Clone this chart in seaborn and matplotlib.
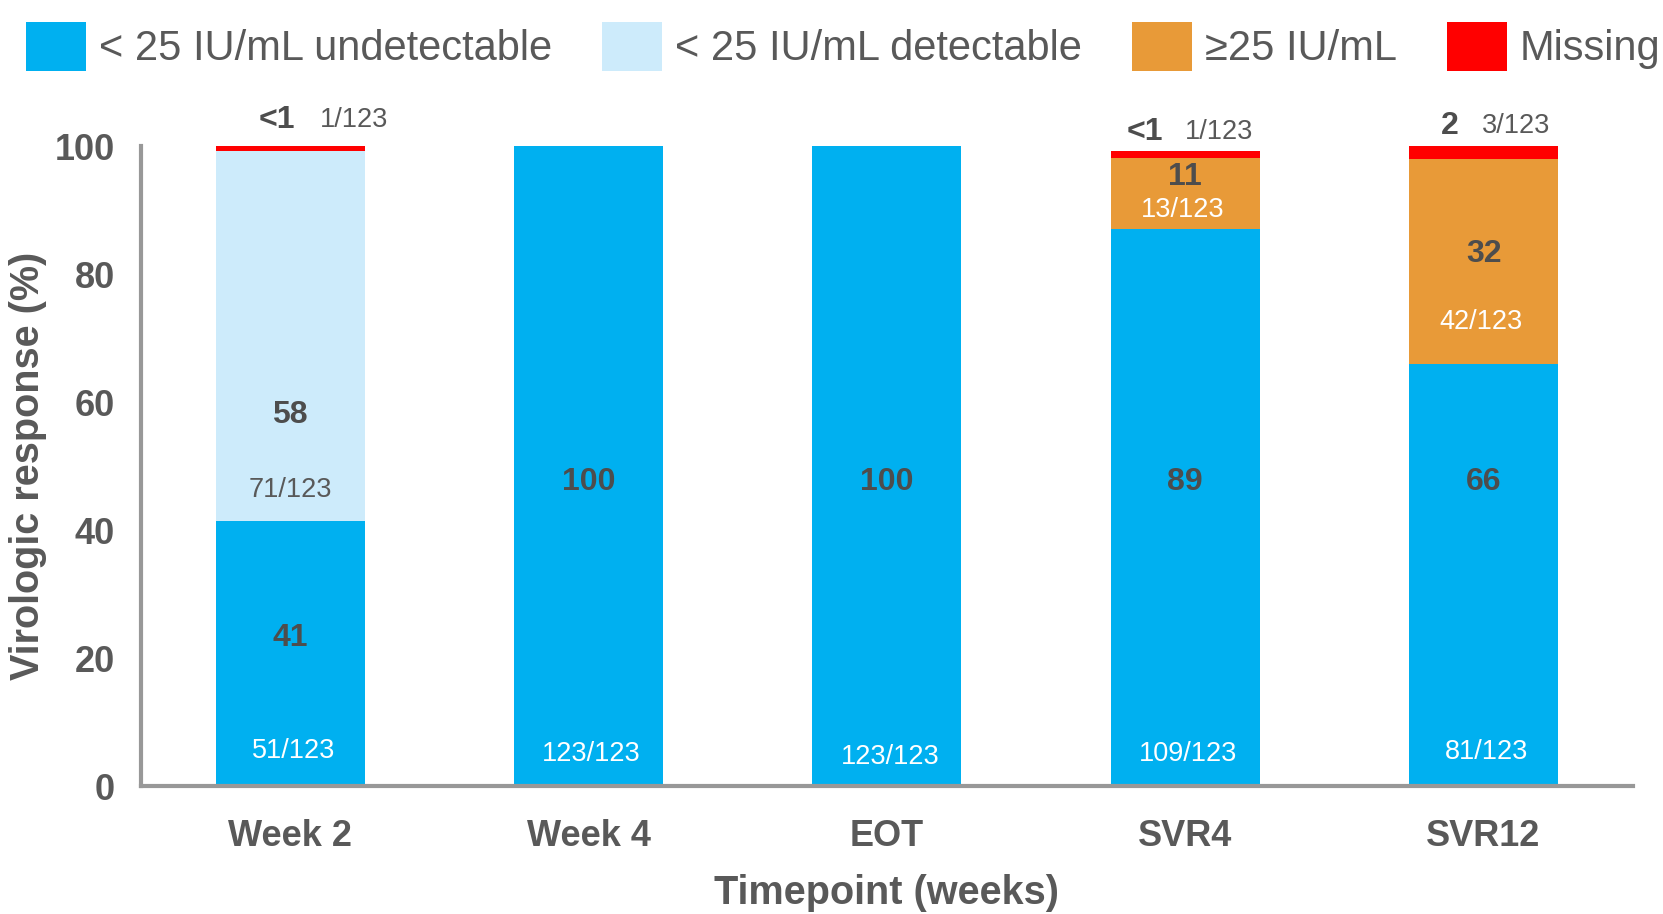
import matplotlib
matplotlib.use("Agg")
import matplotlib.pyplot as plt
from matplotlib.patches import Patch
import seaborn as sns
import pandas as pd
import numpy as np

# data
timepoints = ["Week 2", "Week 4", "EOT", "SVR4", "SVR12"]
undetectable = [41.5, 100, 100, 87.1, 66.0]
detectable = [57.7, 0, 0, 0, 0]
above25 = [0, 0, 0, 11.1, 32.0]
missing = [0.8, 0, 0, 1.0, 2.0]

pct_undet = ["41", "100", "100", "89", "66"]
n_undet = ["51/123", "123/123", "123/123", "109/123", "81/123"]
pct_det = ["58", "", "", "", ""]
n_det = ["71/123", "", "", "", ""]
pct_above = ["", "", "", "11", "32"]
n_above = ["", "", "", "13/123", "42/123"]
pct_miss = ["<1", "", "", "<1", "2"]
n_miss = ["1/123", "", "", "1/123", "3/123"]

series_names = ["< 25 IU/mL undetectable", "< 25 IU/mL detectable", "\u226525 IU/mL", "Missing"]
colors = ["#00B0F0", "#CDEBFB", "#E89A38", "#FF0000"]

# where the labels sit (x offset from bar centre, y in data units)
undet_y = [23.2, 47.5, 47.5, 47.5, 47.5]
undet_n_y = [5.5, 5.0, 4.5, 5.0, 5.3]
above_y = [0, 0, 0, 95.2, 83.2]
above_n_y = [0, 0, 0, 90.0, 72.5]
miss_dx = [-0.046, 0, 0, -0.135, -0.114]
miss_n_dx = [0.10, 0, 0, 0.0, -0.007]
miss_y = [104.1, 0, 0, 102.3, 103.2]

sns.set_style("white")
plt.rcParams["font.family"] = ["Liberation Sans Narrow", "Liberation Sans", "DejaVu Sans"]
gray = "#595959"
dark = "#4D4D4D"
axcol = "#989898"

df = pd.DataFrame({"tp": timepoints, "s1": undetectable, "s2": detectable,
                   "s3": above25, "s4": missing})
df["c1"] = df["s1"]
df["c2"] = df["c1"] + df["s2"]
df["c3"] = df["c2"] + df["s3"]
df["c4"] = df["c3"] + df["s4"]

fig = plt.figure(figsize=(16.63, 9.14), dpi=100)
ax = fig.add_axes([0.0848, 0.140, 0.897, 0.700])

# stacked bars drawn from the top down
for col, c in zip(["c4", "c3", "c2", "c1"], colors[::-1]):
    sns.barplot(data=df, x="tp", y=col, color=c, width=0.5, saturation=1,
                ax=ax, linewidth=0, zorder=2)

ax.set_xlim(-0.5, 4.5)
ax.set_ylim(0, 100)
ax.set_yticks([0, 20, 40, 60, 80, 100])
ax.set_xticks(range(5))
ax.set_xticklabels(timepoints)
ax.set_xticks(np.arange(-0.5, 5, 1), minor=True)
ax.tick_params(axis="x", which="major", length=0, pad=24, labelsize=26, labelcolor=gray)
ax.tick_params(axis="x", which="minor", length=11, width=3, color=axcol, direction="out")
ax.tick_params(axis="y", length=9, width=3, color=axcol, pad=10, labelsize=26, labelcolor=gray)
for lab in ax.get_xticklabels() + ax.get_yticklabels():
    lab.set_fontweight("bold")
for s in ["top", "right"]:
    ax.spines[s].set_visible(False)
for s in ["left", "bottom"]:
    ax.spines[s].set_color(axcol)
    ax.spines[s].set_linewidth(3)
ax.set_xlabel("Timepoint (weeks)", fontsize=28.5, fontweight="bold", color=gray, labelpad=14)
ax.set_ylabel("Virologic response (%)", fontsize=28.5, fontweight="bold", color=gray, labelpad=5)

big = dict(fontsize=23, fontweight="bold", color=dark, ha="center", va="center", clip_on=False)
small = dict(fontsize=19.5, ha="center", va="center", clip_on=False)

for i in range(5):
    ax.text(i, undet_y[i], pct_undet[i], **big)
    ax.text(i + 0.01, undet_n_y[i], n_undet[i], color="white", **small)
    if pct_det[i]:
        ax.text(i, 58.0, pct_det[i], **big)
        ax.text(i, 46.3, n_det[i], color=gray, **small)
    if pct_above[i]:
        ax.text(i, above_y[i], pct_above[i], **big)
        ax.text(i - 0.01, above_n_y[i], n_above[i], color="white", **small)
    if pct_miss[i]:
        ax.text(i + miss_dx[i], miss_y[i], pct_miss[i], **big)
        ax.text(i + miss_n_dx[i], miss_y[i], n_miss[i], color=gray, fontsize=19.5,
                ha="left", va="center", clip_on=False)

handles = [Patch(facecolor=c, edgecolor="none") for c in colors]
fig.legend(handles, series_names, loc="upper left", bbox_to_anchor=(-0.002, 1.008), ncol=4,
           frameon=False, fontsize=30, handlelength=1.45, handleheight=1.45,
           handletextpad=0.3, columnspacing=1.2, labelcolor=gray, borderaxespad=0.3)

fig.savefig("out.png", dpi=100)
